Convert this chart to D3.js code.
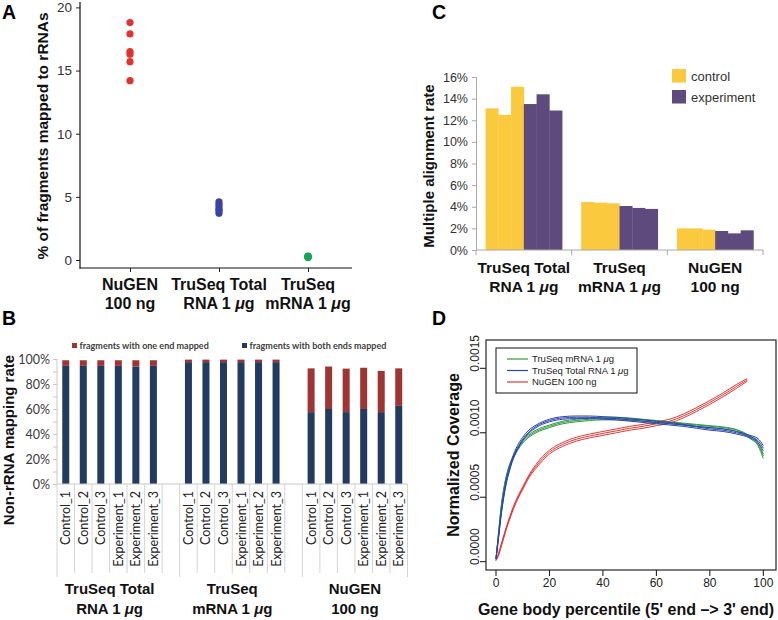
<!DOCTYPE html>
<html><head><meta charset="utf-8">
<script src="https://cdn.jsdelivr.net/npm/d3@7"></script>
<style>
body{margin:0;background:#fff;}
svg{display:block;font-family:"Liberation Sans",Arial,sans-serif;}
</style></head><body>
<svg id="fig" width="778" height="620"></svg>
<script>
// ---------- Panel A data ----------
const kitsA = ["NuGEN 100 ng", "TruSeq Total RNA 1 μg", "TruSeq mRNA 1 μg"];
const labelsA = [["NuGEN","100 ng"],["TruSeq Total","RNA 1 μg"],["TruSeq","mRNA 1 μg"]];
const rrnaNugen = [18.8, 17.9, 16.5, 16.3, 15.7, 14.2];
const rrnaTotal = [4.6, 4.4, 4.2, 4.0, 3.9, 3.7];
const rrnaMrna  = [0.30, 0.26, 0.22, 0.28, 0.24, 0.20];
const ticksA = [0, 5, 10, 15, 20];

// ---------- Panel B data ----------
const samplesB = ["Control_1","Control_2","Control_3","Experiment_1","Experiment_2","Experiment_3"];
const kitsB = ["TruSeq Total RNA 1 μg","TruSeq mRNA 1 μg","NuGEN 100 ng"];
const labelsB = [["TruSeq Total","RNA 1 μg"],["TruSeq","mRNA 1 μg"],["NuGEN","100 ng"]];
const bothTotal = [94.5, 94.5, 94.5, 94.5, 94.0, 94.5];
const oneTotal  = [4.5, 4.5, 4.5, 4.5, 5.0, 4.5];
const bothMrna  = [97.5, 97.5, 97.5, 97.5, 97.5, 97.5];
const oneMrna   = [2.0, 2.0, 2.0, 2.0, 2.0, 2.0];
const bothNugen = [57.5, 60.0, 57.5, 60.0, 57.5, 62.5];
const oneNugen  = [35.0, 34.0, 34.8, 33.0, 33.0, 30.0];
const ticksB = [0, 20, 40, 60, 80, 100];
const legendB = ["fragments with one end mapped", "fragments with both ends mapped"];

// ---------- Panel C data ----------
const kitsC = ["TruSeq Total RNA 1 μg","TruSeq mRNA 1 μg","NuGEN 100 ng"];
const labelsC = [["TruSeq Total","RNA 1 μg"],["TruSeq","mRNA 1 μg"],["NuGEN","100 ng"]];
const controlTotal = [13.1, 12.5, 15.1];
const experimentTotal = [13.5, 14.4, 12.9];
const controlMrna = [4.44, 4.38, 4.32];
const experimentMrna = [4.07, 3.89, 3.80];
const controlNugen = [2.00, 2.00, 1.88];
const experimentNugen = [1.76, 1.54, 1.82];
const ticksC = [0, 2, 4, 6, 8, 10, 12, 14, 16];
const legendC = ["control", "experiment"];

// ---------- Panel D data ----------
const pctTruSeq = [0,1,2,3,4,5,6,8,10,12,15,20,25,30,35,40,45,50,55,60,65,70,75,80,85,90,95,98,100];
const pctNugen  = [0,1,2,3,4,5,6,8,10,12,15,20,25,30,35,40,45,50,55,60,65,70,75,80,85,90,94];
const covTotal1 = [0.00002,0.00020,0.00038,0.00052,0.00063,0.00071,0.00078,0.00088,0.00095,0.00100,0.00105,0.001095,0.001115,0.00112,0.00112,0.001115,0.00111,0.00110,0.00109,0.00108,0.00107,0.00106,0.001045,0.00103,0.00102,0.00100,0.00097,0.00094,0.00088];
const covTotal2 = [0.00003,0.00021,0.00040,0.00054,0.00065,0.00073,0.00080,0.00090,0.000965,0.001015,0.00106,0.001105,0.001125,0.00113,0.00113,0.001125,0.00112,0.00111,0.00110,0.00109,0.00108,0.001065,0.00105,0.00104,0.00103,0.00101,0.00098,0.000955,0.00090];
const covTotal3 = [0.00002,0.00019,0.00037,0.00051,0.00062,0.00070,0.00077,0.00087,0.00094,0.00099,0.00104,0.001085,0.001105,0.00111,0.00111,0.001105,0.00110,0.00109,0.00108,0.00107,0.00106,0.00105,0.001035,0.00102,0.00101,0.00099,0.00096,0.000925,0.00086];
const covMrna1 = [0.00002,0.00023,0.00043,0.00057,0.00067,0.00074,0.00079,0.00087,0.00093,0.00097,0.00101,0.00105,0.00108,0.001095,0.001105,0.00111,0.00111,0.001105,0.00110,0.00109,0.00108,0.00107,0.00106,0.00105,0.00104,0.00102,0.000965,0.00091,0.00082];
const covMrna2 = [0.00002,0.00024,0.00044,0.00058,0.00068,0.00075,0.00080,0.00088,0.00094,0.00098,0.00102,0.00106,0.00109,0.001105,0.001115,0.00112,0.00112,0.001115,0.001105,0.001095,0.001085,0.001075,0.001065,0.001055,0.001045,0.001025,0.000975,0.000925,0.000835];
const covMrna3 = [0.00002,0.00022,0.00042,0.00056,0.00066,0.00073,0.00078,0.00086,0.00092,0.00096,0.00100,0.00104,0.00107,0.001085,0.001095,0.00110,0.00110,0.001095,0.00109,0.00108,0.00107,0.00106,0.00105,0.00104,0.00103,0.00101,0.000955,0.00090,0.00080];
const covNugen1 = [0.00001,0.00006,0.00013,0.00020,0.00027,0.00033,0.00039,0.00049,0.00057,0.00065,0.00074,0.00085,0.00091,0.00095,0.000975,0.000995,0.001015,0.001035,0.00105,0.00107,0.00109,0.00113,0.00118,0.001235,0.001295,0.00136,0.00141];
const covNugen2 = [0.00001,0.00007,0.00014,0.00021,0.00028,0.00034,0.00040,0.00050,0.00058,0.00066,0.000755,0.000865,0.000925,0.000965,0.00099,0.00101,0.00103,0.00105,0.001065,0.001085,0.001105,0.001145,0.001195,0.00125,0.00131,0.001375,0.00142];
const covNugen3 = [0.00001,0.00005,0.00012,0.00019,0.00026,0.00032,0.00038,0.00048,0.00056,0.00064,0.000725,0.000835,0.000895,0.000935,0.00096,0.00098,0.001,0.00102,0.001035,0.001055,0.001075,0.001115,0.001165,0.00122,0.00128,0.001345,0.00140];
const ticksDx = [0, 20, 40, 60, 80, 100];
const ticksDy = [0, 0.0005, 0.0010, 0.0015];
const legendD = ["TruSeq mRNA 1 μg", "TruSeq Total RNA 1 μg", "NuGEN 100 ng"];

// ---------- helpers ----------
const svg = d3.select("#fig");
function muText(t, str) {
  const parts = str.split("μ");
  if (parts.length > 1) {
    t.append("tspan").text(parts[0]);
    t.append("tspan").attr("font-style", "italic").text("μ");
    t.append("tspan").text(parts[1]);
  } else t.text(str);
  return t;
}
function twoLine(g, x, y, lines, size, lh) {
  lines.forEach((ln, i) => {
    const t = g.append("text").attr("x", x).attr("y", y + i * lh)
      .attr("text-anchor", "middle").attr("font-weight", "bold")
      .attr("font-size", size).attr("fill", "#111");
    muText(t, ln);
  });
}
function panelTitle(txt, x, y) {
  svg.append("text").attr("x", x).attr("y", y).attr("font-size", 19.5)
    .attr("font-weight", "bold").attr("fill", "#000").text(txt);
}
function rotLabel(g, txt, x, y, size) {
  g.append("text").attr("transform", `translate(${x},${y}) rotate(-90)`)
    .attr("text-anchor", "middle").attr("font-weight", "bold")
    .attr("font-size", size).attr("fill", "#111").text(txt);
}

// ================= Panel A =================
panelTitle("A", 2, 19);
const gA = svg.append("g");
const yA = d3.scaleLinear().domain([0, 20]).range([260, 7.4]);
const xA = d3.scalePoint().domain(kitsA).range([130, 308]);
gA.append("g").attr("transform", "translate(80,0)")
  .call(d3.axisLeft(yA).tickValues(ticksA).tickSize(4).tickPadding(4))
  .call(g => g.select(".domain").remove())
  .call(g => g.selectAll("line").attr("stroke", "#222"))
  .call(g => g.selectAll("text").attr("font-size", 13.5).attr("fill", "#333")
    .attr("font-family", "Liberation Sans, Arial, sans-serif"));
gA.append("g").attr("transform", "translate(0,268)")
  .call(d3.axisBottom(xA).tickSize(4).tickFormat(""))
  .call(g => g.select(".domain").remove())
  .call(g => g.selectAll("line").attr("stroke", "#222"));
gA.append("line").attr("x1", 80).attr("x2", 80).attr("y1", 2).attr("y2", 268.5).attr("stroke", "#111").attr("stroke-width", 1.2);
gA.append("line").attr("x1", 79.5).attr("x2", 352).attr("y1", 268).attr("y2", 268).attr("stroke", "#111").attr("stroke-width", 1.2);
const seriesA = [
  {kit: kitsA[0], vals: rrnaNugen, color: "#e3322e"},
  {kit: kitsA[1], vals: rrnaTotal, color: "#3c43a4"},
  {kit: kitsA[2], vals: rrnaMrna, color: "#13a650"}
];
seriesA.forEach(s => {
  gA.selectAll(null).data(s.vals).enter().append("circle")
    .attr("cx", xA(s.kit)).attr("cy", d => yA(d)).attr("r", 3.6).attr("fill", s.color);
});
labelsA.forEach((ls, i) => twoLine(gA, xA(kitsA[i]), 290, ls, 16, 18.5));
rotLabel(gA, "% of fragments mapped to rRNAs", 48, 136, 15.5);

// ================= Panel B =================
panelTitle("B", 2, 325);
const gB = svg.append("g").attr("font-family", "Lato, 'Open Sans', sans-serif");
const slotsB = [];
kitsB.forEach((k, ki) => {
  samplesB.forEach(s => slotsB.push(k + "|" + s));
  if (ki < kitsB.length - 1) slotsB.push("gap" + ki);
});
const xB = d3.scaleBand().domain(slotsB).range([57, 407.5]).paddingInner(0.6).paddingOuter(0.3);
const stepB = (407.5 - 57) / slotsB.length;
const yB = d3.scaleLinear().domain([0, 100]).range([484, 359]);
const bothB = [bothTotal, bothMrna, bothNugen];
const oneB = [oneTotal, oneMrna, oneNugen];
const rowsB = [];
kitsB.forEach((k, ki) => samplesB.forEach((s, si) =>
  rowsB.push({key: k + "|" + s, sample: s, both: bothB[ki][si], one: oneB[ki][si]})));
// axes
gB.append("line").attr("x1", 57).attr("x2", 57).attr("y1", 359).attr("y2", 484).attr("stroke", "#c8c8c8");
gB.append("g").attr("transform", "translate(57,0)")
  .call(d3.axisLeft(yB).ticks(10).tickSize(4).tickFormat(""))
  .call(g => g.select(".domain").remove())
  .call(g => g.selectAll("line").attr("stroke", "#c8c8c8"));
gB.append("g").attr("transform", "translate(57,0)")
  .call(d3.axisLeft(yB).tickValues(ticksB).tickSize(0).tickPadding(7).tickFormat(d => d + "%"))
  .call(g => g.select(".domain").remove())
  .call(g => g.selectAll("text").attr("font-size", 12.5).attr("fill", "#3a3a3a")
    .attr("font-family", "Lato, 'Open Sans', sans-serif"));
// bars
gB.selectAll(".bb").data(rowsB).enter().append("rect")
  .attr("x", d => xB(d.key)).attr("width", xB.bandwidth())
  .attr("y", d => yB(d.both)).attr("height", d => yB(0) - yB(d.both)).attr("fill", "#233b5e");
gB.selectAll(".br").data(rowsB).enter().append("rect")
  .attr("x", d => xB(d.key)).attr("width", xB.bandwidth())
  .attr("y", d => yB(d.both + d.one)).attr("height", d => yB(d.both) - yB(d.both + d.one)).attr("fill", "#9e3434");
gB.append("line").attr("x1", 57).attr("x2", 407.5).attr("y1", 484).attr("y2", 484).attr("stroke", "#c8c8c8");
// category separators
d3.range(slotsB.length + 1).forEach(k => {
  const x = 57 + k * stepB;
  const major = (k % 7 === 0) || k === slotsB.length;
  gB.append("line").attr("x1", x).attr("x2", x).attr("y1", 484).attr("y2", major ? 577 : 573)
    .attr("stroke", "#cfcfcf").attr("stroke-width", 0.9);
});
// sample labels
rowsB.forEach(d => {
  const cx = xB(d.key) + xB.bandwidth() / 2;
  gB.append("text").attr("transform", `translate(${cx},491) rotate(-90)`)
    .attr("text-anchor", "end").attr("dy", "0.36em").attr("font-size", 12.5)
    .attr("fill", "#222").text(d.sample);
});
// group labels
kitsB.forEach((k, ki) => {
  const x0 = 57 + ki * 7 * stepB, x1 = x0 + 6 * stepB;
  twoLine(gB, (x0 + x1) / 2, 594, labelsB[ki], 15, 19.5);
});
gB.selectAll("text.g").remove();
gB.selectAll("text").filter(function(){return d3.select(this).attr("font-weight")==="bold";})
  .attr("font-family", "Liberation Sans, Arial, sans-serif");
// legend
const legColorsB = ["#9e3434", "#233b5e"];
[72, 242].forEach((lx, i) => {
  gB.append("rect").attr("x", lx).attr("y", 343).attr("width", 5).attr("height", 5).attr("fill", legColorsB[i]);
  gB.append("text").attr("x", lx + 7.5).attr("y", 348.5).attr("font-size", 9)
    .attr("font-weight", 700).attr("fill", "#404040").text(legendB[i]);
});
rotLabel(svg, "Non-rRNA mapping rate", 14, 440, 15);

// ================= Panel C =================
panelTitle("C", 432, 19);
const gC = svg.append("g");
const xC = d3.scaleBand().domain(kitsC).range([476, 763]);
const xCi = d3.scaleBand().domain(d3.range(6)).range([xC.bandwidth() * 0.1, xC.bandwidth() * 0.9]);
const yC = d3.scaleLinear().domain([0, 16]).range([250, 77]);
const ctrlC = [controlTotal, controlMrna, controlNugen];
const expC = [experimentTotal, experimentMrna, experimentNugen];
const colC = ["#fbc93d", "#5e4a7c"];
const rowsC = [];
kitsC.forEach((k, ki) => {
  ctrlC[ki].forEach((v, i) => rowsC.push({kit: k, idx: i, v, c: colC[0]}));
  expC[ki].forEach((v, i) => rowsC.push({kit: k, idx: i + 3, v, c: colC[1]}));
});
gC.selectAll("rect.bar").data(rowsC).enter().append("rect")
  .attr("x", d => xC(d.kit) + xCi(d.idx)).attr("width", xCi.bandwidth() + 0.3)
  .attr("y", d => yC(d.v)).attr("height", d => yC(0) - yC(d.v)).attr("fill", d => d.c);
gC.append("g").attr("transform", "translate(476,0)")
  .call(d3.axisLeft(yC).tickValues(ticksC).tickSize(4).tickPadding(4).tickFormat(d => d + "%"))
  .call(g => g.select(".domain").attr("stroke", "#a8a8a8"))
  .call(g => g.selectAll("line").attr("stroke", "#a8a8a8"))
  .call(g => g.selectAll("text").attr("font-size", 12.5).attr("fill", "#333")
    .attr("font-family", "Liberation Sans, Arial, sans-serif"));
gC.append("line").attr("x1", 476).attr("x2", 763).attr("y1", 250).attr("y2", 250).attr("stroke", "#a8a8a8");
[0, 1, 2, 3].forEach(i => {
  const x = 476 + i * xC.step();
  gC.append("line").attr("x1", x).attr("x2", x).attr("y1", 250).attr("y2", 255).attr("stroke", "#a8a8a8");
});
kitsC.forEach((k, ki) => twoLine(gC, xC(k) + xC.bandwidth() / 2, 273, labelsC[ki], 15.5, 19));
legendC.forEach((t, i) => {
  gC.append("rect").attr("x", 672).attr("y", 69 + i * 21).attr("width", 14).attr("height", 13.5).attr("fill", colC[i]);
  gC.append("text").attr("x", 691).attr("y", 80.5 + i * 21).attr("font-size", 13).attr("fill", "#333").text(t);
});
rotLabel(gC, "Multiple alignment rate", 434, 166, 15);

// ================= Panel D =================
panelTitle("D", 432, 325);
const gD = svg.append("g");
const xD = d3.scaleLinear().domain([0, 100]).range([496, 763.3]);
const yD = d3.scaleLinear().domain([0, 0.0015]).range([561.7, 368.3]);
const colD = {mrna: "#2f9a40", total: "#2d43ae", nugen: "#e23a36"};
const lineT = d3.line().x((d, i) => xD(pctTruSeq[i])).y(d => yD(d)).curve(d3.curveMonotoneX);
const lineN = d3.line().x((d, i) => xD(pctNugen[i])).y(d => yD(d)).curve(d3.curveMonotoneX);
[[covNugen1, lineN, colD.nugen], [covNugen2, lineN, colD.nugen], [covNugen3, lineN, colD.nugen],
 [covMrna1, lineT, colD.mrna], [covMrna2, lineT, colD.mrna], [covMrna3, lineT, colD.mrna],
 [covTotal1, lineT, colD.total], [covTotal2, lineT, colD.total], [covTotal3, lineT, colD.total]]
.forEach(([arr, gen, c]) => {
  gD.append("path").attr("d", gen(arr)).attr("fill", "none").attr("stroke", c).attr("stroke-width", 1);
});
gD.append("rect").attr("x", 486).attr("y", 340).attr("width", 290).attr("height", 230)
  .attr("fill", "none").attr("stroke", "#111").attr("stroke-width", 1.1);
ticksDx.forEach(v => {
  gD.append("line").attr("x1", xD(v)).attr("x2", xD(v)).attr("y1", 570).attr("y2", 576).attr("stroke", "#111");
  gD.append("text").attr("x", xD(v)).attr("y", 587).attr("text-anchor", "middle")
    .attr("font-size", 12).attr("fill", "#222").text(v);
});
ticksDy.forEach(v => {
  gD.append("line").attr("x1", 480).attr("x2", 486).attr("y1", yD(v)).attr("y2", yD(v)).attr("stroke", "#111");
  gD.append("text").attr("transform", `translate(479,${yD(v) + 3.4}) rotate(-90)`)
    .attr("font-size", 12).attr("fill", "#222").text(d3.format(".4f")(v));
});
// legend
gD.append("rect").attr("x", 496).attr("y", 348).attr("width", 141).attr("height", 45)
  .attr("fill", "#fff").attr("stroke", "#111").attr("stroke-width", 1);
const legColD = [colD.mrna, colD.total, colD.nugen];
legendD.forEach((t, i) => {
  const ly = 359 + i * 11.5;
  gD.append("line").attr("x1", 507).attr("x2", 528).attr("y1", ly).attr("y2", ly).attr("stroke", legColD[i]).attr("stroke-width", 1.2);
  muText(gD.append("text").attr("x", 532).attr("y", ly + 3.4).attr("font-size", 9.5).attr("fill", "#222"), t);
});
gD.append("text").attr("x", 626).attr("y", 615).attr("text-anchor", "middle")
  .attr("font-size", 16).attr("font-weight", "bold").attr("fill", "#111")
  .text("Gene body percentile (5' end –> 3' end)");
rotLabel(gD, "Normalized Coverage", 459, 455, 16);
</script>
</body></html>
